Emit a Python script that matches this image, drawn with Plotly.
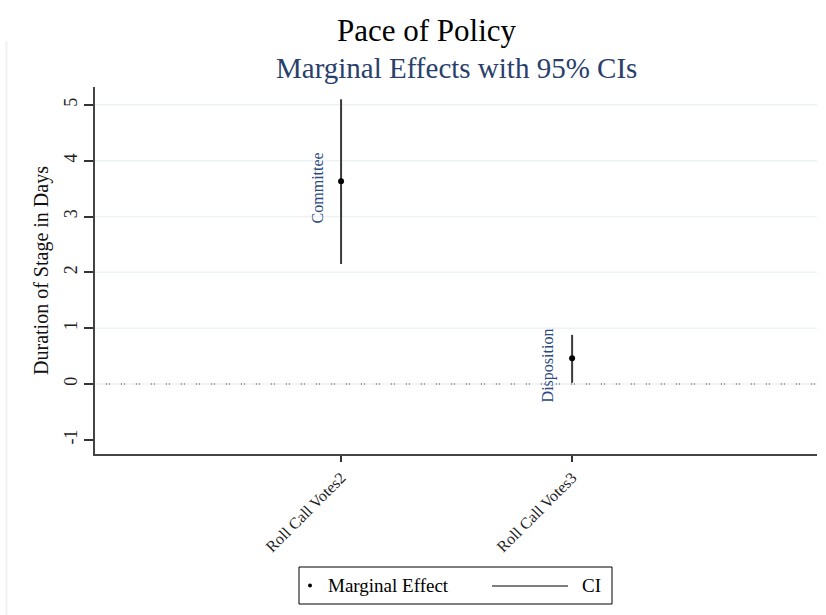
import plotly.graph_objects as go

# ---- data ----
categories = ["Roll Call Votes2", "Roll Call Votes3"]
stage_labels = ["Committee", "Disposition"]
effects = [3.63, 0.46]
ci_low = [2.15, 0.02]
ci_high = [5.10, 0.88]
y_ticks = [-1, 0, 1, 2, 3, 4, 5]
y_tick_labels = ["-1", "0", "1", "2", "3", "4", "5"]
grid_vals = [0, 1, 2, 3, 4, 5]

W, H = 826, 615
L, R, T, B = 95, 9, 87, 161
pw, ph = W - L - R, H - T - B

def px_x(p):
    return (p - L) / pw

def px_y(p):
    return (H - B - p) / ph

serif = "Liberation Serif, Times New Roman, serif"
xpos = [i + 1 for i in range(len(categories))]

fig = go.Figure()

# CI lines
for x, lo, hi in zip(xpos, ci_low, ci_high):
    fig.add_trace(go.Scatter(x=[x, x], y=[lo, hi], mode="lines",
                             line=dict(color="#3a3a3a", width=2),
                             showlegend=False, hoverinfo="skip"))
# point estimates
fig.add_trace(go.Scatter(x=xpos, y=effects, mode="markers",
                         marker=dict(color="black", size=6),
                         showlegend=False))

# gridlines
for g in grid_vals:
    fig.add_shape(type="line", xref="paper", yref="y", x0=0, x1=1, y0=g, y1=g,
                  line=dict(color="#edf2f5", width=1.5), layer="below")
# dotted zero line
fig.add_shape(type="line", xref="paper", yref="y", x0=0.015, x1=1, y0=0, y1=0,
              line=dict(color="#6f6f6f", width=1.3, dash="1px,2px,1px,11px"))

# stage labels
for x, y, lab in zip(xpos, effects, stage_labels):
    fig.add_annotation(x=x, y=y, text=lab, textangle=-90, showarrow=False,
                       xshift=-24, yshift=-7, yanchor="middle", xanchor="center",
                       font=dict(family=serif, size=16, color="#2c4a80"))

# outer frame left border
fig.add_shape(type="line", xref="paper", yref="paper",
              x0=px_x(6.5), x1=px_x(6.5), y0=px_y(41), y1=px_y(615),
              line=dict(color="#eef2f6", width=2))

# titles
fig.add_annotation(xref="paper", yref="paper", x=px_x(427), y=px_y(30),
                   xanchor="center", yanchor="middle",
                   text="Pace of Policy", showarrow=False,
                   font=dict(family=serif, size=31, color="black"))
fig.add_annotation(xref="paper", yref="paper", x=px_x(456), y=px_y(68),
                   xanchor="center", yanchor="middle",
                   text="Marginal Effects with 95% CIs", showarrow=False,
                   font=dict(family=serif, size=29, color="#2a3f6b"))

# manual legend
lx0, lx1, ly0, ly1 = 299, 612, 567, 604
fig.add_shape(type="rect", xref="paper", yref="paper",
              x0=px_x(lx0), x1=px_x(lx1), y0=px_y(ly0), y1=px_y(ly1),
              line=dict(color="black", width=1), fillcolor="white")
fig.add_shape(type="circle", xref="paper", yref="paper",
              x0=px_x(308), x1=px_x(312), y0=px_y(583.5), y1=px_y(587.5),
              line=dict(color="black", width=0), fillcolor="black")
fig.add_annotation(xref="paper", yref="paper", x=px_x(326), y=px_y(585.5),
                   xanchor="left", yanchor="middle", text="Marginal Effect",
                   showarrow=False,
                   font=dict(family=serif, size=19, color="black"))
fig.add_shape(type="line", xref="paper", yref="paper",
              x0=px_x(492), x1=px_x(568), y0=px_y(586), y1=px_y(586),
              line=dict(color="black", width=1))
fig.add_annotation(xref="paper", yref="paper", x=px_x(580), y=px_y(585.5),
                   xanchor="left", yanchor="middle", text="CI", showarrow=False,
                   font=dict(family=serif, size=19, color="black"))

fig.update_layout(
    width=W, height=H,
    margin=dict(l=L, r=R, t=T, b=B),
    paper_bgcolor="white", plot_bgcolor="white",
    showlegend=False,
    xaxis=dict(range=[-0.065, 3.06], tickvals=xpos, ticktext=categories,
               tickangle=-45, ticks="outside", ticklen=6, tickcolor="#333",
               tickwidth=1.5, showgrid=False, zeroline=False,
               showline=True, linecolor="#444", linewidth=2,
               tickfont=dict(family=serif, size=16, color="#222")),
    yaxis=dict(range=[-1.254, 5.32], tickvals=y_ticks, ticktext=y_tick_labels,
               tickangle=-90, ticks="outside", ticklen=9, tickcolor="#333",
               tickwidth=1.5, showgrid=False, zeroline=False,
               showline=True, linecolor="#444", linewidth=2,
               tickfont=dict(family=serif, size=18, color="#222"),
               title=dict(text="Duration of Stage in Days", standoff=7,
                          font=dict(family=serif, size=20, color="#111"))),
)

fig.write_html("out.html", config={"displayModeBar": False},
               post_script="document.body.style.margin='0';")
